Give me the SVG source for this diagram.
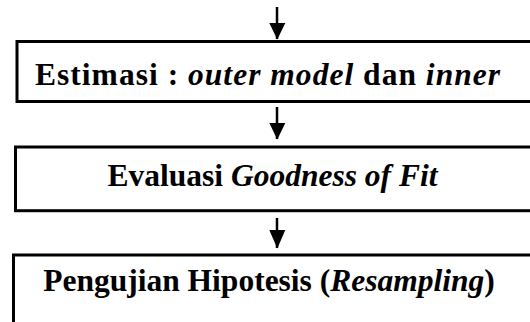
<svg xmlns="http://www.w3.org/2000/svg" width="530" height="322" viewBox="0 0 530 322">
<style>
.box{fill:#fff;stroke:#000;stroke-width:3}
.t{font-family:'Liberation Serif','Times New Roman',serif;font-weight:700;font-size:31.5px;fill:#000}
.i{font-style:italic}
.c{stroke:#000;stroke-width:2.5;fill:none}
</style>
<rect width="530" height="322" fill="#fff"/>
<g id="connectors">
<path class="c" d="M277,7 V39"/>
<path d="M269.3,23 H285.3 L277.3,39.5 Z" fill="#000"/>
<path class="c" d="M277,107 V139"/>
<path d="M269.3,123 H285.3 L277.3,139.5 Z" fill="#000"/>
<path class="c" d="M277,218 V248"/>
<path d="M269.3,230 H285.3 L277.3,248.5 Z" fill="#000"/>
</g>
<g id="node1">
<rect class="box" x="17" y="41.5" width="560" height="60"/>
<text class="t" x="35" y="85" textLength="465" lengthAdjust="spacing">Estimasi : <tspan class="i">outer model</tspan> dan <tspan class="i">inner</tspan></text>
</g>
<g id="node2">
<rect class="box" x="15.5" y="147" width="560" height="63.7"/>
<text class="t" x="272.5" y="186" text-anchor="middle">Evaluasi <tspan class="i">Goodness of Fit</tspan></text>
</g>
<g id="node3">
<rect class="box" x="13.5" y="255" width="560" height="100"/>
<text class="t" x="269" y="291" text-anchor="middle">Pengujian Hipotesis (<tspan class="i">Resampling</tspan>)</text>
</g>
</svg>
